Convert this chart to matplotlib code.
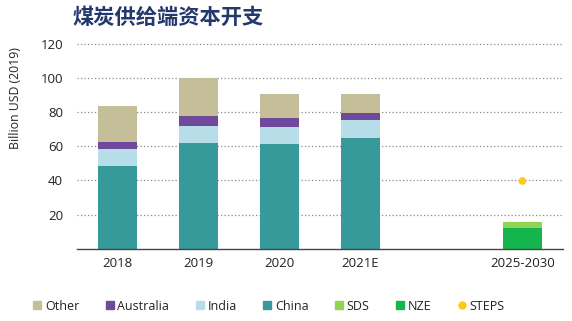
import matplotlib
matplotlib.use("Agg")
import matplotlib.pyplot as plt
from matplotlib.lines import Line2D
import numpy as np

plt.rcParams['font.family'] = ['Open Sans', 'Noto Sans CJK SC', 'DejaVu Sans']

title = "煤炭供给端资本开支"
categories = ["2018", "2019", "2020", "2021E", "", "2025-2030"]
hist_idx = [0, 1, 2, 3]
china = [48.4, 61.6, 61.4, 64.5]
india = [9.9, 10.2, 9.9, 10.8]
australia = [4.4, 5.8, 5.1, 4.2]
other = [20.9, 22.2, 14.1, 11.1]
future_idx = [5]
nze = [12.3]
sds_extra = [3.1]
steps = [39.6]

yticks = [20, 40, 60, 80, 100, 120]

c_other = "#C4BF99"
c_aus = "#6F4A9C"
c_ind = "#B7DDE9"
c_chn = "#379A9A"
c_sds = "#8FD553"
c_nze = "#14B54C"
c_steps = "#FFC816"

fig = plt.figure(figsize=(5.72, 3.21), dpi=100)
ax = fig.add_axes([0.1346, 0.2252, 0.984 - 0.1346, 0.875 - 0.2252])

w = 0.49
x = np.array(hist_idx)
b1 = np.array(china)
b2 = b1 + np.array(india)
b3 = b2 + np.array(australia)
ax.bar(x, china, w, color=c_chn, zorder=2)
ax.bar(x, india, w, bottom=b1, color=c_ind, zorder=2)
ax.bar(x, australia, w, bottom=b2, color=c_aus, zorder=2)
ax.bar(x, other, w, bottom=b3, color=c_other, zorder=2)

xf = np.array(future_idx)
ax.bar(xf, nze, w, color=c_nze, zorder=2)
ax.bar(xf, sds_extra, w, bottom=nze, color=c_sds, zorder=2)
ax.scatter(xf, steps, s=30, color=c_steps, zorder=3, edgecolors='none')

ax.set_xlim(-0.5, 5.5)
ax.set_ylim(0, 122)
ax.set_yticks(yticks)
ax.set_yticklabels([str(v) for v in yticks], fontsize=9.5, color="#222222")
ax.set_xticks(range(len(categories)))
ax.set_xticklabels(categories, fontsize=9.5, color="#222222")
ax.tick_params(axis='both', length=0)
ax.tick_params(axis='y', pad=10)
ax.tick_params(axis='x', pad=6)
for v in yticks:
    ax.axhline(v, color="#888888", linestyle=(0, (1, 1.8)), linewidth=0.9, zorder=1)
for s in ['top', 'right', 'left']:
    ax.spines[s].set_visible(False)
ax.spines['bottom'].set_color("#444444")
ax.spines['bottom'].set_linewidth(1.0)
ax.spines['bottom'].set_zorder(4)

fig.text(16 / 572, 1 - 98 / 321, "Billion USD (2019)", rotation=90, ha='center', va='center',
         fontsize=8.8, color="#222222")

fig.text(72 / 572, 1 - 17 / 321, title, family=['Noto Sans CJK SC'], fontweight='bold',
         fontsize=15.3, color="#24386E", ha='left', va='center')

handles = [
    Line2D([], [], marker='s', color=c_other, linestyle='none', markersize=5.5),
    Line2D([], [], marker='s', color=c_aus, linestyle='none', markersize=5.5),
    Line2D([], [], marker='s', color=c_ind, linestyle='none', markersize=5.5),
    Line2D([], [], marker='s', color=c_chn, linestyle='none', markersize=5.5),
    Line2D([], [], marker='s', color=c_sds, linestyle='none', markersize=5.5),
    Line2D([], [], marker='s', color=c_nze, linestyle='none', markersize=5.5),
    Line2D([], [], marker='o', color=c_steps, linestyle='none', markersize=5),
]
labels = ["Other", "Australia", "India", "China", "SDS", "NZE", "STEPS"]
leg = fig.legend(handles, labels, loc='center', bbox_to_anchor=(269 / 572, 1 - 306 / 321),
                 ncol=7, frameon=False, fontsize=9, handlelength=0.6, handletextpad=0.3,
                 columnspacing=2.15, borderpad=0)
for t in leg.get_texts():
    t.set_color("#222222")

fig.savefig("out.png", dpi=100)
